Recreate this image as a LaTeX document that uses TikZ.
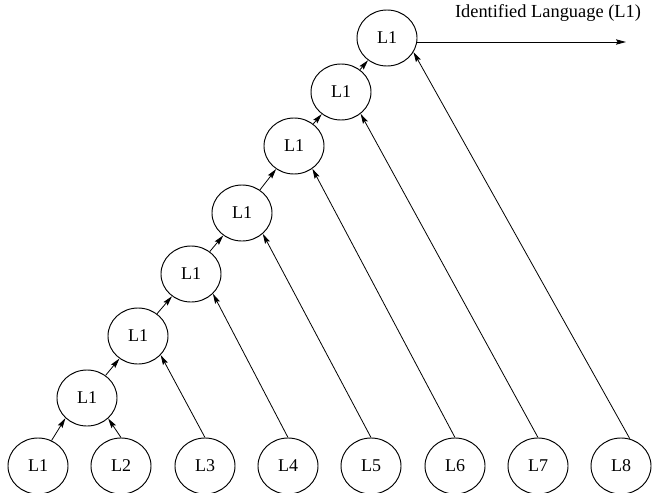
\documentclass[tikz,border=0pt]{standalone}
\usepackage{fontspec}
\setmainfont{Liberation Serif}
\usetikzlibrary{arrows.meta,shapes.geometric}
\begin{document}
\begin{tikzpicture}[x=0.75pt,y=-0.75pt,
  lang/.style={ellipse, draw, line width=0.7pt, minimum width=45pt,
    minimum height=42pt, inner sep=0pt, font=\fontsize{13.5}{16}\selectfont},
  link/.style={line width=0.6pt, -{Stealth[length=7.5pt,width=4pt,inset=1.2pt]}}]
\useasboundingbox (0,0) rectangle (652,492);

% input languages along the bottom
\node[lang] (b1) at (38,466)  {L1};
\node[lang] (b2) at (121,466) {L2};
\node[lang] (b3) at (205,466) {L3};
\node[lang] (b4) at (288,466) {L4};
\node[lang] (b5) at (371,466) {L5};
\node[lang] (b6) at (455,466) {L6};
\node[lang] (b7) at (538,466) {L7};
\node[lang] (b8) at (621,466) {L8};

% chain of pairwise decisions
\node[lang] (t1) at (87,398)  {L1};
\node[lang] (t2) at (138,336) {L1};
\node[lang] (t3) at (191,274) {L1};
\node[lang] (t4) at (242,213) {L1};
\node[lang] (t5) at (294,146) {L1};
\node[lang] (t6) at (341,92)  {L1};
\node[lang] (t7) at (387,38)  {L1};

% first comparison
\draw[link] (b1.62) -- (t1.-137);
\draw[link] (b2.north) -- (t1.-44);

% winners move up the chain
\draw[link] (t1) -- (t2);
\draw[link] (t2) -- (t3);
\draw[link] (t3) -- (t4);
\draw[link] (t4) -- (t5);
\draw[link] (t5) -- (t6);
\draw[link] (t6) -- (t7);

% each remaining language joins one stage
\draw[link] (b3.north) -- (t2.-40);
\draw[link] (b4.north) -- (t3.-42);
\draw[link] (b5.north) -- (t4.-45);
\draw[link] (b6.north) -- (t5.-51);
\draw[link] (b7.north) -- (t6.-48);
\draw[link] (b8.72) -- (t7.-28);

% final result
\coordinate (out) at (626,42);
\draw[link] (t7.east |- out) -- (out);
\node[font=\fontsize{13.8}{16}\selectfont, anchor=base] (result) at (548,18) {Identified Language (L1)};
\end{tikzpicture}
\end{document}
